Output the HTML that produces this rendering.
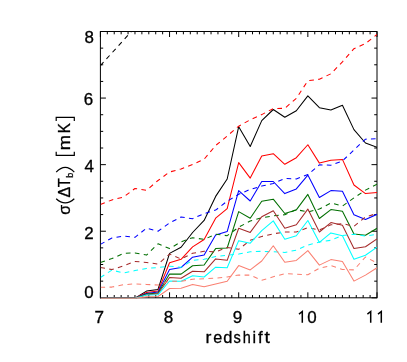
<!DOCTYPE html>
<html><head><meta charset="utf-8"><title>plot</title>
<style>
html,body{margin:0;padding:0;background:#fff;}
body{width:407px;height:362px;overflow:hidden;}
svg{display:block;will-change:transform;}
text{font-family:"Liberation Sans",sans-serif;fill:#000;stroke:#000;stroke-width:0.3px;}
</style></head><body>
<svg width="407" height="362" viewBox="0 0 407 362">
<rect x="0" y="0" width="407" height="362" fill="#ffffff"/>
<defs><clipPath id="cp"><rect x="100.70" y="30.90" width="276.30" height="268.10"/></clipPath></defs>
<g stroke="#000" stroke-width="1.00" fill="none" stroke-linecap="butt">
<rect x="100.40" y="31.50" width="276.60" height="266.30"/>
<path d="M100.40 297.80v-5.50M100.40 31.50v5.50M107.32 297.80v-2.80M107.32 31.50v2.80M114.23 297.80v-2.80M114.23 31.50v2.80M121.15 297.80v-2.80M121.15 31.50v2.80M128.06 297.80v-2.80M128.06 31.50v2.80M134.98 297.80v-2.80M134.98 31.50v2.80M141.89 297.80v-2.80M141.89 31.50v2.80M148.81 297.80v-2.80M148.81 31.50v2.80M155.72 297.80v-2.80M155.72 31.50v2.80M162.63 297.80v-2.80M162.63 31.50v2.80M169.55 297.80v-5.50M169.55 31.50v5.50M176.47 297.80v-2.80M176.47 31.50v2.80M183.38 297.80v-2.80M183.38 31.50v2.80M190.30 297.80v-2.80M190.30 31.50v2.80M197.21 297.80v-2.80M197.21 31.50v2.80M204.12 297.80v-2.80M204.12 31.50v2.80M211.04 297.80v-2.80M211.04 31.50v2.80M217.96 297.80v-2.80M217.96 31.50v2.80M224.87 297.80v-2.80M224.87 31.50v2.80M231.79 297.80v-2.80M231.79 31.50v2.80M238.70 297.80v-5.50M238.70 31.50v5.50M245.62 297.80v-2.80M245.62 31.50v2.80M252.53 297.80v-2.80M252.53 31.50v2.80M259.45 297.80v-2.80M259.45 31.50v2.80M266.36 297.80v-2.80M266.36 31.50v2.80M273.28 297.80v-2.80M273.28 31.50v2.80M280.19 297.80v-2.80M280.19 31.50v2.80M287.11 297.80v-2.80M287.11 31.50v2.80M294.02 297.80v-2.80M294.02 31.50v2.80M300.94 297.80v-2.80M300.94 31.50v2.80M307.85 297.80v-5.50M307.85 31.50v5.50M314.76 297.80v-2.80M314.76 31.50v2.80M321.68 297.80v-2.80M321.68 31.50v2.80M328.60 297.80v-2.80M328.60 31.50v2.80M335.51 297.80v-2.80M335.51 31.50v2.80M342.43 297.80v-2.80M342.43 31.50v2.80M349.34 297.80v-2.80M349.34 31.50v2.80M356.25 297.80v-2.80M356.25 31.50v2.80M363.17 297.80v-2.80M363.17 31.50v2.80M370.09 297.80v-2.80M370.09 31.50v2.80M377.00 297.80v-5.50M377.00 31.50v5.50M100.40 297.80h5.50M377.00 297.80h-5.50M100.40 281.16h2.80M377.00 281.16h-2.80M100.40 264.51h2.80M377.00 264.51h-2.80M100.40 247.87h2.80M377.00 247.87h-2.80M100.40 231.23h5.50M377.00 231.23h-5.50M100.40 214.58h2.80M377.00 214.58h-2.80M100.40 197.94h2.80M377.00 197.94h-2.80M100.40 181.29h2.80M377.00 181.29h-2.80M100.40 164.65h5.50M377.00 164.65h-5.50M100.40 148.01h2.80M377.00 148.01h-2.80M100.40 131.36h2.80M377.00 131.36h-2.80M100.40 114.72h2.80M377.00 114.72h-2.80M100.40 98.07h5.50M377.00 98.07h-5.50M100.40 81.43h2.80M377.00 81.43h-2.80M100.40 64.79h2.80M377.00 64.79h-2.80M100.40 48.14h2.80M377.00 48.14h-2.80M100.40 31.50h5.50M377.00 31.50h-5.50"/>
</g>
<g clip-path="url(#cp)" fill="none" stroke-width="1.05" stroke-linejoin="round" stroke-linecap="butt">
<polyline stroke="#000000" points="100.40,298.30 111.93,298.30 123.45,298.30 134.98,298.30 146.50,291.10 158.03,289.40 169.55,253.40 181.08,247.20 192.60,232.50 204.12,220.40 215.65,196.40 227.18,179.00 238.70,126.70 250.23,146.50 261.75,120.65 273.27,109.50 284.80,117.20 296.33,110.70 307.85,95.90 319.38,107.70 330.90,110.00 342.43,105.20 353.95,129.60 365.48,143.00 377.00,147.30"/>
<polyline stroke="#000000" stroke-dasharray="4.700 4.350" points="100.40,65.70 111.93,52.90 123.45,40.20 134.98,27.40 146.50,14.70 158.03,2.00"/>
<polyline stroke="#ff0000" points="100.40,298.30 111.93,298.30 123.45,298.30 134.98,298.30 146.50,292.50 158.03,291.10 169.55,262.70 181.08,259.30 192.60,246.90 204.12,239.50 215.65,218.20 227.18,208.70 238.70,162.60 250.23,178.10 261.75,155.90 273.27,153.70 284.80,164.30 296.33,157.70 307.85,144.75 319.38,163.10 330.90,160.20 342.43,159.40 353.95,185.00 365.48,193.60 377.00,192.40"/>
<polyline stroke="#ff0000" stroke-dasharray="4.686 4.337" points="100.40,204.40 111.93,199.90 123.45,197.10 134.98,188.50 146.50,190.30 158.03,180.50 169.55,172.00 181.08,169.00 192.60,164.40 204.12,159.20 215.65,145.50 227.18,136.00 238.70,126.20 250.23,119.80 261.75,114.60 273.27,108.60 284.80,108.30 296.33,98.30 307.85,80.80 319.38,79.20 330.90,73.80 342.43,61.80 353.95,48.65 365.48,43.50 377.00,34.50"/>
<polyline stroke="#0000ff" points="100.40,298.30 111.93,298.30 123.45,298.30 134.98,298.30 146.50,293.50 158.03,292.10 169.55,269.60 181.08,267.50 192.60,257.20 204.12,255.10 215.65,235.10 227.18,231.60 238.70,190.60 250.23,201.00 261.75,181.50 273.27,181.50 284.80,193.60 296.33,188.90 307.85,175.10 319.38,197.50 330.90,190.60 342.43,191.30 353.95,214.80 365.48,219.50 377.00,214.30"/>
<polyline stroke="#0000ff" stroke-dasharray="4.634 4.289" points="100.40,244.40 111.93,238.00 123.45,236.00 134.98,237.30 146.50,228.20 158.03,231.20 169.55,223.00 181.08,217.00 192.60,218.70 204.12,213.60 215.65,210.10 227.18,201.20 238.70,194.30 250.23,189.40 261.75,186.10 273.27,183.50 284.80,178.40 296.33,178.90 307.85,174.60 319.38,164.80 330.90,165.20 342.43,161.00 353.95,149.90 365.48,139.20 377.00,138.70"/>
<polyline stroke="#006e00" points="100.40,298.30 111.93,298.30 123.45,298.30 134.98,298.30 146.50,294.10 158.03,293.10 169.55,274.10 181.08,274.10 192.60,265.80 204.12,265.00 215.65,248.60 227.18,248.00 238.70,211.60 250.23,218.20 261.75,201.30 273.27,199.20 284.80,213.50 296.33,209.90 307.85,194.40 319.38,218.50 330.90,209.60 342.43,211.30 353.95,234.00 365.48,235.30 377.00,228.30"/>
<polyline stroke="#006e00" stroke-dasharray="4.700 4.350" points="100.40,262.40 111.93,258.60 123.45,253.40 134.98,252.90 146.50,255.10 158.03,243.80 169.55,248.60 181.08,241.80 192.60,237.70 204.12,239.40 215.65,234.20 227.18,235.70 238.70,227.20 250.23,221.00 261.75,217.70 273.27,215.90 284.80,214.70 296.33,209.60 307.85,212.00 319.38,209.00 330.90,203.00 342.43,206.10 353.95,197.90 365.48,190.10 377.00,184.10"/>
<polyline stroke="#a52a2a" points="100.40,298.30 111.93,298.30 123.45,298.30 134.98,298.30 146.50,294.80 158.03,293.80 169.55,277.50 181.08,278.20 192.60,271.30 204.12,271.80 215.65,258.90 227.18,260.35 238.70,228.30 250.23,232.40 261.75,216.80 273.27,210.80 284.80,228.30 296.33,224.80 307.85,209.10 319.38,232.00 330.90,222.60 342.43,225.30 353.95,248.40 365.48,246.70 377.00,238.90"/>
<polyline stroke="#a52a2a" stroke-dasharray="4.667 4.320" points="100.40,267.50 111.93,269.60 123.45,265.80 134.98,261.50 146.50,262.40 158.03,264.10 169.55,254.10 181.08,259.00 192.60,253.30 204.12,251.20 215.65,252.00 227.18,247.40 238.70,249.30 250.23,240.30 261.75,236.40 273.27,233.80 284.80,232.00 296.33,232.00 307.85,227.70 319.38,230.00 330.90,224.80 342.43,223.60 353.95,226.30 365.48,217.00 377.00,213.50"/>
<polyline stroke="#00ffff" points="100.40,298.30 111.93,298.30 123.45,298.30 134.98,298.30 146.50,295.10 158.03,294.80 169.55,281.00 181.08,281.30 192.60,275.80 204.12,277.00 215.65,267.20 227.18,267.80 238.70,240.65 250.23,243.20 261.75,230.70 273.27,220.90 284.80,239.30 296.33,235.80 307.85,220.50 319.38,242.40 330.90,232.90 342.43,235.80 353.95,259.20 365.48,255.30 377.00,247.20"/>
<polyline stroke="#00ffff" stroke-dasharray="4.653 4.306" points="100.40,277.50 111.93,270.10 123.45,273.00 134.98,270.60 146.50,268.40 158.03,267.50 169.55,266.20 181.08,267.20 192.60,260.30 204.12,259.30 215.65,256.40 227.18,255.20 238.70,254.10 250.23,251.80 261.75,251.30 273.27,251.80 284.80,252.40 296.33,250.10 307.85,245.00 319.38,242.00 330.90,240.30 342.43,235.50 353.95,234.20 365.48,236.00 377.00,234.30"/>
<polyline stroke="#fa8072" points="100.40,298.30 111.93,298.30 123.45,298.30 134.98,298.30 146.50,296.80 158.03,296.50 169.55,288.50 181.08,288.20 192.60,284.40 204.12,286.80 215.65,283.90 227.18,281.20 238.70,265.60 250.23,269.90 261.75,261.00 273.27,245.80 284.80,262.20 296.33,260.40 307.85,250.60 319.38,265.10 330.90,259.60 342.43,261.50 353.95,281.10 365.48,275.10 377.00,267.80"/>
<polyline stroke="#fa8072" stroke-dasharray="4.723 4.372" points="100.40,287.20 111.93,287.10 123.45,284.70 134.98,283.90 146.50,284.40 158.03,285.10 169.55,281.30 181.08,281.30 192.60,279.20 204.12,278.70 215.65,278.20 227.18,276.90 238.70,275.10 250.23,275.10 261.75,280.20 273.27,276.80 284.80,273.70 296.33,274.20 307.85,274.70 319.38,268.20 330.90,265.60 342.43,269.50 353.95,269.90 365.48,257.00 377.00,263.00"/>
</g>
<text transform="translate(94.00,43.38) scale(1.06,1)" font-size="16" text-anchor="end">8</text>
<text transform="translate(93.25,104.78) scale(1.06,1)" font-size="16" text-anchor="end">6</text>
<text transform="translate(94.00,172.38) scale(1.06,1)" font-size="16" text-anchor="end">4</text>
<text transform="translate(93.80,238.73) scale(1.06,1)" font-size="16" text-anchor="end">2</text>
<text transform="translate(93.80,298.43) scale(1.06,1)" font-size="16" text-anchor="end">0</text>
<text transform="translate(99.25,322.5) scale(1.07,1)" font-size="16" text-anchor="middle">7</text>
<text transform="translate(168.40,322.5) scale(1.07,1)" font-size="16" text-anchor="middle">8</text>
<text transform="translate(237.55,322.5) scale(1.07,1)" font-size="16" text-anchor="middle">9</text>
<path d="M299.00 314.1L302.30 311.5V322.7" stroke="#000" stroke-width="1.5" fill="none" stroke-linejoin="miter"/>
<path d="M367.40 314.1L370.70 311.5V322.7" stroke="#000" stroke-width="1.5" fill="none" stroke-linejoin="miter"/>
<path d="M378.00 314.1L381.30 311.5V322.7" stroke="#000" stroke-width="1.5" fill="none" stroke-linejoin="miter"/>
<text transform="translate(307.3,322.6) scale(1.06,1)" font-size="16">0</text>
<text transform="translate(205.48,342.7) scale(1.100,1)" font-size="16">r</text>
<text transform="translate(213.15,342.7) scale(1.013,1)" font-size="16">e</text>
<text transform="translate(223.14,342.7) scale(1.029,1)" font-size="16">d</text>
<text transform="translate(233.45,342.7) scale(0.914,1)" font-size="16">s</text>
<text transform="translate(242.64,342.7) scale(0.902,1)" font-size="16">h</text>
<text transform="translate(252.57,342.7) scale(1.000,1)" font-size="16">i</text>
<text transform="translate(258.09,342.7) scale(1.050,1)" font-size="16">f</text>
<text transform="translate(264.45,342.7) scale(1.207,1)" font-size="16">t</text>
<text transform="translate(70.40,128.20) rotate(-90) scale(0.950,1)" font-size="16" text-anchor="middle">K</text>
<text transform="translate(70.40,142.55) rotate(-90) scale(1.150,1)" font-size="16" text-anchor="middle">m</text>
<text transform="translate(73.10,175.25) rotate(-90) scale(1.000,1)" font-size="9" text-anchor="middle">b</text>
<text transform="translate(70.40,182.70) rotate(-90) scale(0.920,1)" font-size="16" text-anchor="middle">T</text>
<text transform="translate(70.40,192.05) rotate(-90) scale(1.000,1)" font-size="16" text-anchor="middle">Δ</text>
<text transform="translate(70.40,209.85) rotate(-90) scale(1.000,1)" font-size="16" text-anchor="middle">σ</text>
<g stroke="#000" stroke-width="1.2" fill="none">
<path d="M56.2 120.9V117.4H74.3V120.9"/>
<path d="M56.2 151.7V155.3H74.3V151.7"/>
<path d="M56.2 172.2Q65.2 162.6 74.3 172.2"/>
<path d="M56.2 198.7Q65.2 207.1 74.3 198.7"/>
</g>
</svg>
</body></html>
